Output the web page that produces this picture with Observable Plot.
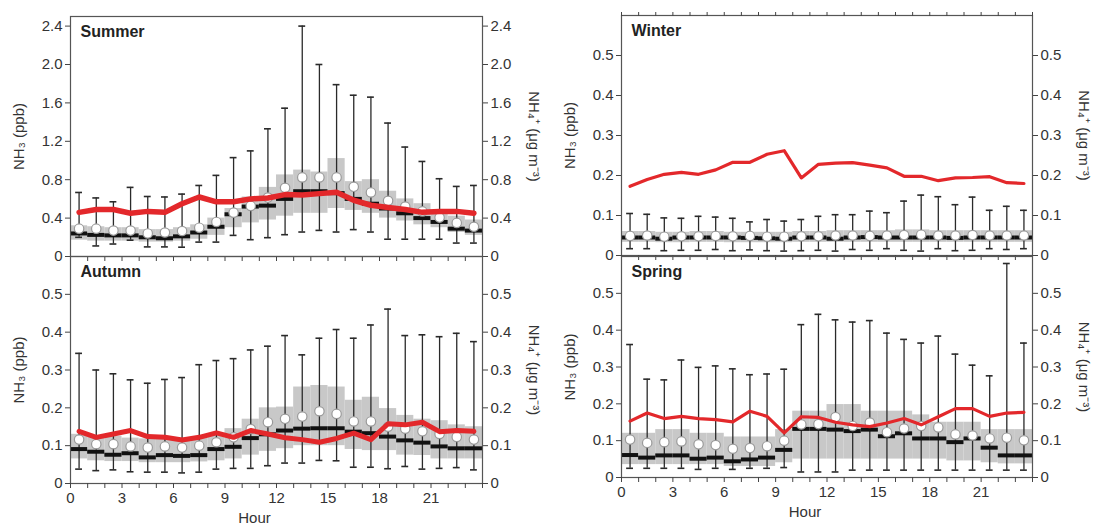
<!DOCTYPE html>
<html><head><meta charset="utf-8">
<script src="https://cdn.jsdelivr.net/npm/d3@7"></script>
<script src="https://cdn.jsdelivr.net/npm/@observablehq/plot@0.6"></script>
<style>
body{margin:0;background:#fff;}
#wrap{position:relative;width:1094px;height:526px;overflow:hidden;background:#fff;font-family:"Liberation Sans",Arial,sans-serif;}
#wrap svg{position:absolute;overflow:visible;}
</style></head><body><div id="wrap"></div>
<script>
const hours = d3.range(24);
const hourTicks = d3.range(0, 25);
const xLabelHours = [0, 3, 6, 9, 12, 15, 18, 21];
const seasonNames = ["Summer", "Autumn", "Winter", "Spring"];
const leftLabel = "NH₃ (ppb)";
const rightLabel = "NH₄⁺ (μg m⁻³)";
const xLabel = "Hour";
const summerTicks = [0, 0.4, 0.8, 1.2, 1.6, 2.0, 2.4];
const smallTicks = [0, 0.1, 0.2, 0.3, 0.4, 0.5];

// Summer
const summerNH3 = [0.46,0.49,0.49,0.45,0.47,0.46,0.55,0.62,0.57,0.57,0.6,0.61,0.645,0.64,0.655,0.67,0.586,0.534,0.51,0.49,0.46,0.47,0.47,0.45];
const summerMean = [0.29,0.29,0.27,0.27,0.24,0.25,0.265,0.30,0.36,0.457,0.527,0.614,0.715,0.824,0.824,0.824,0.726,0.667,0.58,0.52,0.47,0.405,0.35,0.31];
const summerMedian = [0.24,0.225,0.22,0.22,0.2,0.19,0.21,0.25,0.31,0.44,0.52,0.53,0.6,0.68,0.68,0.66,0.6,0.55,0.5,0.45,0.4,0.36,0.29,0.27];
const summerQ1 = [0.17,0.16,0.16,0.16,0.15,0.15,0.16,0.18,0.22,0.3,0.35,0.38,0.42,0.45,0.45,0.5,0.48,0.45,0.4,0.37,0.33,0.3,0.25,0.22];
const summerQ3 = [0.32,0.31,0.3,0.3,0.28,0.28,0.3,0.33,0.4,0.5,0.62,0.72,0.85,0.9,0.88,1.02,0.78,0.8,0.68,0.6,0.55,0.48,0.42,0.38];
const summerLow = [0.2,0.11,0.13,0.17,0.1,0.1,0.097,0.15,0.15,0.22,0.175,0.196,0.227,0.255,0.272,0.255,0.28,0.255,0.18,0.18,0.18,0.18,0.14,0.14];
const summerHigh = [0.667,0.61,0.57,0.72,0.625,0.62,0.65,0.74,0.845,1.03,1.10,1.33,1.545,2.40,2.0,1.79,1.68,1.66,1.39,1.14,0.99,0.81,0.73,0.74];

// Autumn
const autumnNH3 = [0.138,0.122,0.131,0.14,0.124,0.122,0.115,0.122,0.134,0.122,0.14,0.131,0.121,0.116,0.109,0.119,0.133,0.116,0.158,0.155,0.162,0.137,0.14,0.138];
const autumnMean = [0.116,0.104,0.104,0.098,0.095,0.098,0.095,0.1,0.109,0.122,0.144,0.162,0.171,0.177,0.191,0.184,0.164,0.164,0.15,0.145,0.138,0.131,0.123,0.116];
const autumnMedian = [0.091,0.084,0.076,0.08,0.069,0.075,0.073,0.075,0.091,0.097,0.12,0.13,0.14,0.145,0.146,0.146,0.137,0.133,0.124,0.114,0.108,0.098,0.093,0.093];
const autumnQ1 = [0.065,0.06,0.058,0.058,0.055,0.055,0.055,0.057,0.06,0.065,0.075,0.085,0.092,0.1,0.1,0.1,0.09,0.087,0.087,0.075,0.074,0.065,0.065,0.065];
const autumnQ3 = [0.13,0.125,0.125,0.12,0.118,0.12,0.12,0.122,0.13,0.145,0.17,0.2,0.202,0.255,0.259,0.255,0.22,0.228,0.198,0.18,0.17,0.166,0.155,0.15];
const autumnLow = [0.038,0.034,0.036,0.031,0.03,0.03,0.028,0.03,0.038,0.04,0.04,0.047,0.054,0.054,0.061,0.06,0.043,0.043,0.039,0.045,0.038,0.04,0.042,0.036];
const autumnHigh = [0.344,0.30,0.29,0.274,0.265,0.275,0.28,0.314,0.325,0.33,0.353,0.363,0.391,0.34,0.384,0.407,0.384,0.419,0.461,0.391,0.393,0.388,0.397,0.375];

// Winter
const winterNH3 = [0.173,0.19,0.203,0.208,0.203,0.214,0.233,0.233,0.253,0.262,0.194,0.228,0.231,0.232,0.226,0.219,0.198,0.198,0.187,0.194,0.195,0.197,0.182,0.18];
const winterMean = [0.049,0.05,0.047,0.048,0.048,0.049,0.048,0.049,0.047,0.047,0.048,0.048,0.05,0.05,0.049,0.05,0.051,0.052,0.05,0.05,0.051,0.05,0.05,0.05];
const winterMedian = [0.045,0.045,0.042,0.045,0.045,0.045,0.045,0.044,0.043,0.042,0.045,0.045,0.042,0.045,0.046,0.045,0.045,0.045,0.045,0.044,0.045,0.045,0.045,0.045];
const winterQ1 = [0.033,0.033,0.032,0.032,0.033,0.033,0.032,0.032,0.032,0.032,0.033,0.033,0.033,0.033,0.033,0.033,0.033,0.033,0.033,0.033,0.033,0.033,0.033,0.033];
const winterQ3 = [0.06,0.06,0.058,0.058,0.06,0.06,0.058,0.058,0.058,0.058,0.06,0.06,0.062,0.062,0.062,0.062,0.064,0.064,0.062,0.062,0.062,0.062,0.062,0.062];
const winterLow = [0.017,0.017,0.012,0.013,0.013,0.015,0.012,0.014,0.012,0.011,0.012,0.013,0.011,0.015,0.013,0.017,0.013,0.011,0.017,0.012,0.013,0.017,0.015,0.017];
const winterHigh = [0.105,0.103,0.094,0.093,0.098,0.096,0.093,0.084,0.09,0.086,0.09,0.098,0.102,0.102,0.111,0.107,0.136,0.151,0.147,0.127,0.146,0.113,0.123,0.113];

// Spring
const springNH3 = [0.153,0.175,0.16,0.166,0.16,0.157,0.151,0.18,0.166,0.121,0.165,0.163,0.15,0.143,0.138,0.148,0.16,0.143,0.165,0.187,0.187,0.166,0.175,0.177];
const springMean = [0.103,0.094,0.096,0.098,0.09,0.088,0.078,0.08,0.085,0.1,0.144,0.145,0.164,0.14,0.149,0.123,0.133,0.14,0.136,0.117,0.114,0.106,0.108,0.101];
const springMedian = [0.061,0.054,0.06,0.06,0.051,0.054,0.044,0.049,0.054,0.075,0.132,0.132,0.13,0.126,0.13,0.112,0.12,0.106,0.106,0.096,0.106,0.081,0.06,0.06];
const springQ1 = [0.035,0.035,0.035,0.035,0.035,0.035,0.03,0.03,0.03,0.04,0.05,0.05,0.05,0.05,0.05,0.05,0.05,0.05,0.05,0.045,0.045,0.04,0.037,0.037];
const springQ3 = [0.12,0.12,0.13,0.13,0.12,0.12,0.11,0.11,0.11,0.13,0.18,0.18,0.198,0.198,0.18,0.18,0.18,0.17,0.15,0.15,0.15,0.13,0.13,0.13];
const springLow = [0.025,0.025,0.025,0.025,0.022,0.025,0.022,0.025,0.025,0.027,0.015,0.015,0.015,0.02,0.02,0.02,0.02,0.02,0.02,0.02,0.02,0.02,0.02,0.02];
const springHigh = [0.361,0.267,0.265,0.319,0.299,0.303,0.295,0.279,0.281,0.294,0.415,0.443,0.428,0.422,0.426,0.392,0.375,0.365,0.384,0.335,0.305,0.276,0.581,0.365];

const fmt = d => d === 0 ? "0" : d.toFixed(1);
const FONT = "Liberation Sans, Arial, sans-serif";
const FS = 15;

function panel(cfg) {
  const rows = hours.map(h => ({
    h, nh3: cfg.nh3[h], mean: cfg.mean[h], median: cfg.median[h],
    q1: cfg.q1[h], q3: cfg.q3[h], low: cfg.low[h], high: cfg.high[h]
  }));
  const marks = [
    Plot.rect(rows, {x1: "h", x2: d => d.h + 1, y1: "q1", y2: "q3", fill: "#c8c8c8"}),
    Plot.ruleX(rows, {x: d => d.h + 0.5, y1: "low", y2: "high", stroke: "#2a2a2a", strokeWidth: 1.3}),
    Plot.ruleY(rows, {y: "high", x1: d => d.h + 0.3, x2: d => d.h + 0.7, stroke: "#2a2a2a", strokeWidth: 1.6}),
    Plot.ruleY(rows, {y: "low", x1: d => d.h + 0.3, x2: d => d.h + 0.7, stroke: "#2a2a2a", strokeWidth: 1.6}),
    Plot.ruleY(rows, {y: "median", x1: "h", x2: d => d.h + 1, stroke: "#111", strokeWidth: 4}),
    Plot.dot(rows, {x: d => d.h + 0.5, y: "mean", r: 4.7, fill: "#fff", stroke: "#9a9a9a", strokeWidth: 1.2}),
    Plot.line(rows, {x: d => d.h + 0.5, y: "nh3", stroke: "#e3282b", strokeWidth: cfg.lineW, strokeLinejoin: "round"}),
    Plot.frame({stroke: "#555", strokeWidth: 1.2}),
    Plot.axisY(cfg.yTicks, {anchor: "left", tickFormat: fmt, label: null, tickSize: 5, tickPadding: 3, fontSize: FS, stroke: "#444", fill: "#333"}),
    Plot.axisY(cfg.yTicks, {anchor: "right", tickFormat: fmt, label: null, tickSize: 5, tickPadding: 3, fontSize: FS, stroke: "#444", fill: "#333"}),
    Plot.axisX(hourTicks, {anchor: "bottom", tickFormat: cfg.bottom ? (d => xLabelHours.includes(d) ? String(d) : "") : () => "", label: null, tickSize: 5, tickPadding: 4, fontSize: FS, stroke: "#444", fill: "#333"}),
    Plot.text([leftLabel], {frameAnchor: "left", dx: -51, rotate: -90, textAnchor: "middle", lineAnchor: "middle", fontSize: FS, fill: "#333"}),
    Plot.text([rightLabel], {frameAnchor: "right", dx: 51, rotate: 90, textAnchor: "middle", lineAnchor: "middle", fontSize: FS, fill: "#333"}),
    Plot.text([cfg.name], {frameAnchor: "top-left", dx: 10, dy: 9, textAnchor: "start", lineAnchor: "top", fontSize: 16, fontWeight: "bold", fill: "#222"})
  ];
  if (cfg.topTicks) marks.push(Plot.axisX(hourTicks, {anchor: "top", tickFormat: () => "", label: null, tickSize: 4, stroke: "#444"}));
  if (cfg.bottom) marks.push(Plot.text([xLabel], {frameAnchor: "bottom", dx: -22, dy: 35, textAnchor: "middle", lineAnchor: "middle", fontSize: FS, fill: "#333"}));
  const svg = Plot.plot({
    width: cfg.width, height: cfg.height,
    marginLeft: cfg.mL, marginRight: cfg.mR, marginTop: cfg.mT, marginBottom: cfg.mB,
    style: {background: "transparent", fontFamily: FONT, fontSize: FS + "px", overflow: "visible"},
    x: {domain: [0, 24]},
    y: {domain: [0, cfg.yMax]},
    marks
  });
  svg.style.left = cfg.left + "px";
  svg.style.top = cfg.top + "px";
  document.getElementById("wrap").appendChild(svg);
}

panel({name: seasonNames[0], nh3: summerNH3, mean: summerMean, median: summerMedian, q1: summerQ1, q3: summerQ3, low: summerLow, high: summerHigh,
  yMax: 2.5, yTicks: summerTicks, left: 0, top: 0, width: 560, height: 258, mL: 70, mR: 78, mT: 16, mB: 2, bottom: false, lineW: 5.5});
panel({name: seasonNames[1], nh3: autumnNH3, mean: autumnMean, median: autumnMedian, q1: autumnQ1, q3: autumnQ3, low: autumnLow, high: autumnHigh,
  yMax: 0.6, yTicks: smallTicks, left: 0, top: 246, width: 560, height: 280, mL: 70, mR: 78, mT: 10, mB: 43, bottom: true, lineW: 5});
panel({name: seasonNames[2], nh3: winterNH3, mean: winterMean, median: winterMedian, q1: winterQ1, q3: winterQ3, low: winterLow, high: winterHigh,
  yMax: 0.6, yTicks: smallTicks, left: 550, top: 0, width: 544, height: 256, mL: 71, mR: 62, mT: 15, mB: 1, bottom: false, topTicks: true, lineW: 3.2});
panel({name: seasonNames[3], nh3: springNH3, mean: springMean, median: springMedian, q1: springQ1, q3: springQ3, low: springLow, high: springHigh,
  yMax: 0.6, yTicks: smallTicks, left: 550, top: 246, width: 544, height: 280, mL: 71, mR: 62, mT: 10, mB: 49, bottom: true, lineW: 3.2});
</script></body></html>
